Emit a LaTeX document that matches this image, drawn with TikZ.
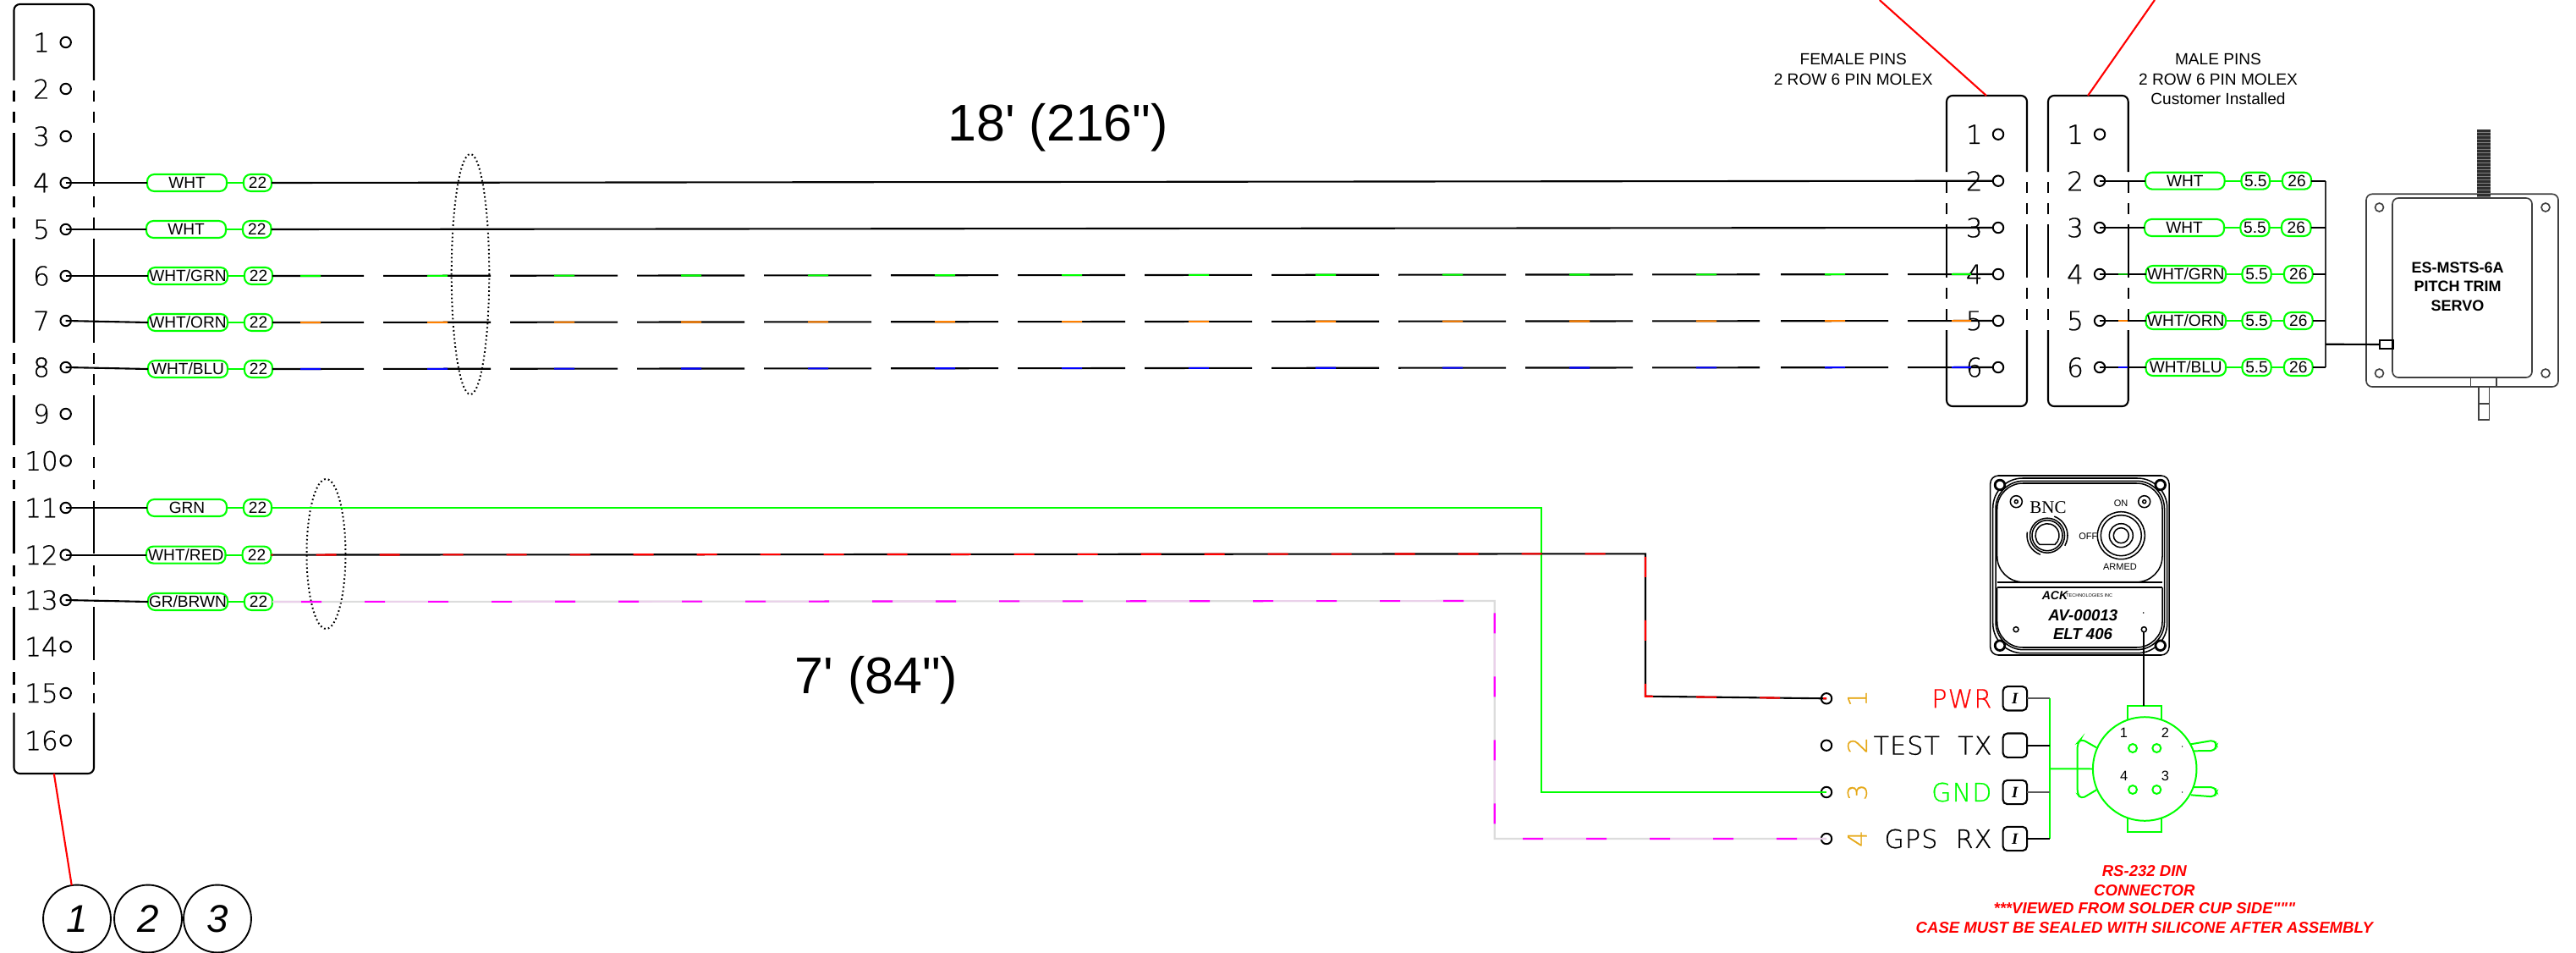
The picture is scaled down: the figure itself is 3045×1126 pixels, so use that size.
\documentclass[tikz,border=0pt]{standalone}
\usepackage{fontspec}
\setmainfont{Liberation Sans}
\newfontfamily\rawsans{Liberation Sans}
\newfontfamily\cad[FakeBold=0.7]{DejaVu Sans ExtraLight}
\newfontfamily\cadsp[LetterSpace=4,FakeBold=0.7]{DejaVu Sans ExtraLight}
\newfontfamily\serf{Liberation Serif}
\newcommand\fs[1]{\fontsize{#1}{#1}\selectfont}
\definecolor{gwire}{HTML}{00FF00}
\definecolor{pinorange}{HTML}{E6A817}
\definecolor{wg}{HTML}{00FF00}
\definecolor{wo}{HTML}{FF8000}
\definecolor{wb}{HTML}{0000FF}
\definecolor{wm}{HTML}{FF00FF}
\definecolor{pinkish}{HTML}{EAD0EA}
\definecolor{lgrey}{HTML}{DCDCDC}
\tikzset{
  hole/.style={circle,draw=black,line width=1.7pt,minimum size=10.6pt,inner sep=0pt,outer sep=0pt},
  pinnum/.style={inner sep=0pt,font=\cad\fs{26.4}},
  boxline/.style={draw=black,line width=1.8pt},
  wire/.style={draw=black,line width=1.8pt},
  gline/.style={draw=gwire,line width=1.8pt},
  pill/.style={draw=gwire,line width=1.8pt,fill=white,rounded corners=7pt,inner sep=0pt,outer sep=0pt,
     minimum height=17pt,font=\fs{16.3}},
  smalltxt/.style={inner sep=0pt,font=\fs{16.3},align=center},
  bigtxt/.style={inner sep=0pt,font=\rawsans\fs{52}},
  redtxt/.style={inner sep=0pt,font=\rawsans\bfseries\itshape\fs{15.85},text=red},
  leader/.style={draw=red,line width=1.8pt},
  callout/.style={circle,draw=black,line width=1.6pt,minimum size=68.2pt,inner sep=0pt,outer sep=0pt,font=\itshape\fs{39}},
  shield/.style={draw=black,line width=1.7pt,dash pattern=on 1.5pt off 2.6pt},
  pinbox/.style={draw=black,line width=1.8pt,rounded corners=4.5pt,minimum width=24.3pt,minimum height=24.2pt,inner sep=0pt,outer sep=0pt,font=\serf\bfseries\itshape\fs{16}},
  din/.style={draw=gwire,line width=1.7pt},
  panel/.style={draw=black,line width=1.3pt},
  servo/.style={draw=black!75,line width=1.4pt},
  sig/.style={inner sep=0pt,anchor=east,font=\cadsp\fs{25.6}},
}
\newcommand\pillnode[5]{\node[pill,minimum width={(#3-#2)*0.85358pt}] (#1) at ({(#2+#3)/2},#4) {#5};}
\newcommand\sidesegs[3]{\foreach \a/\b in {#3}{\draw[boxline] (#1,\a)--(#1,\b); \draw[boxline] (#2,\a)--(#2,\b);}}
\newcommand\brokenwire[4]{%
  \foreach \s/\e/\ca/\cb in {322/430/355/379,453/580/505/529,603/730/655/679,753/880/805/829,903/1030/955/979,1053/1180/1105/1129,1203/1330/1255/1279,1353/1480/1405/1429,1503/1630/1555/1579,1653/1780/1705/1729,1803/1930/1855/1879,1953/2080/2005/2029,2105/2232/2157/2181,2255/2356/2307/2330}{%
    \draw[wire] ({\s},{#1+(#2-#1)*(\s-322)/2040})--({\e},{#1+(#2-#1)*(\e-322)/2040});
    \draw[draw=#3,line width=1.8pt] ({\ca},{#1+(#2-#1)*(\ca-322)/2040})--({\cb},{#1+(#2-#1)*(\cb-322)/2040});
  }}
\begin{document}
\begin{tikzpicture}[x=0.03cm,y=-0.03cm]
\fill[white] (0,0) rectangle (3045,1126);
\useasboundingbox (0,0) rectangle (3045,1126);

% ---------- left connector
\draw[boxline,rounded corners=6pt] (16.5,95)--(16.5,5)--(111,5)--(111,95);
\draw[boxline,rounded corners=6pt] (16.5,842)--(16.5,914)--(111,914)--(111,842);
\sidesegs{16.5}{111}{107/120,132/145,157/220,232/245,257/270,282/405,417/430,442/455,467/526,540/553,567/578,592/654,668/681,693/703,717/780,794/809,819/831}
\foreach \i/\y in {1/50,2/105,3/161,4/216,5/271,6/326,7/379,8/434,9/489,10/544.5,11/600,12/655.6,13/709,14/764,15/819,16/875}{
  \node[hole] (h\i) at (77.7,\y) {};
  \node[pinnum] (n\i) at (49,\y) {\i};
}
% ---------- left pills
\pillnode{w4}{174}{268}{216}{WHT}
\pillnode{d4}{288}{321}{216}{22}
\pillnode{w5}{173}{267}{271}{WHT}
\pillnode{d5}{287}{320.5}{271}{22}
\pillnode{w6}{175}{269}{326}{WHT/GRN}
\pillnode{d6}{289}{322}{326}{22}
\pillnode{w7}{175}{269}{381}{WHT/ORN}
\pillnode{d7}{289}{322}{381}{22}
\pillnode{w8}{175}{269}{436}{WHT/BLU}
\pillnode{d8}{289}{322}{436}{22}
\pillnode{w11}{174}{268}{600}{GRN}
\pillnode{d11}{288}{321}{600}{22}
\pillnode{w12}{173}{266.5}{655.6}{WHT/RED}
\pillnode{d12}{286.6}{320.5}{655.6}{22}
\pillnode{w13}{175}{269}{711}{GR/BRWN}
\pillnode{d13}{289}{322}{711}{22}
\foreach \i in {4,5,6,7,8,11,12,13}{
  \draw[wire] (h\i.center)--(w\i.west);
  \draw[gline] (w\i.east)--(d\i.west);
}

% ---------- female / male connectors
\draw[boxline,rounded corners=6pt] (2301,203)--(2301,113)--(2396,113)--(2396,203);
\draw[boxline,rounded corners=6pt] (2301,390)--(2301,480)--(2396,480)--(2396,390);
\sidesegs{2301}{2396}{215/228,240/253,265/328,340/353,365/378}
\draw[boxline,rounded corners=6pt] (2421,203)--(2421,113)--(2515.7,113)--(2515.7,203);
\draw[boxline,rounded corners=6pt] (2421,390)--(2421,480)--(2515.7,480)--(2515.7,390);
\sidesegs{2421}{2515.7}{215/228,240/253,265/328,340/353,365/378}
\foreach \i/\y in {1/158.7,2/213.7,3/269,4/324,5/379,6/434}{
  \node[pinnum] (fn\i) at (2333.7,\y) {\i};
  \node[hole] (fh\i) at (2362,\y) {};
  \node[pinnum] (mn\i) at (2453,\y) {\i};
  \node[hole] (mh\i) at (2482,\y) {};
}
% wires across
\draw[wire] (d4.east)--(fh2.west);
\draw[wire] (d5.east)--(fh3.west);
\brokenwire{326}{324}{wg}{fh4}
\brokenwire{381}{379}{wo}{fh5}
\brokenwire{436}{434}{wb}{fh6}

% shields
\draw[shield] (556,324) ellipse [x radius=22.3,y radius=142];
\draw[shield] (385.5,654.5) ellipse [x radius=23,y radius=88.5];

% ---------- red leaders
\coordinate (lf) at (2221.7,0);
\coordinate (lm) at (2547,0);
\coordinate (ft) at (2348,113);
\coordinate (mt) at (2468,113);
\draw[leader] (lf)--(ft);
\draw[leader] (lm)--(mt);

% ---------- labels
\node[smalltxt] (femt) at (2190.7,70) {FEMALE PINS};
\node[smalltxt] (femb) at (2190.7,94) {2 ROW 6 PIN MOLEX};
\node[smalltxt] (malt) at (2622,70) {MALE PINS};
\node[smalltxt] (malb) at (2622,94) {2 ROW 6 PIN MOLEX};
\node[smalltxt] (malc) at (2622,117) {Customer Installed};
\node[bigtxt] (dim18) at (1250.7,150.5) {18' (216")};
\node[bigtxt] (dim7) at (1036,804) {7' (84")};

% ---------- male side pills
\pillnode{mw2}{2536}{2629.6}{213.7}{WHT}
\pillnode{ma2}{2649.5}{2683}{213.7}{5.5}
\pillnode{mb2}{2698}{2732}{213.7}{26}
\pillnode{mw3}{2535}{2629}{269}{WHT}
\pillnode{ma3}{2648.4}{2682.5}{269}{5.5}
\pillnode{mb3}{2697}{2731.5}{269}{26}
\pillnode{mw4}{2536.5}{2631}{324}{WHT/GRN}
\pillnode{ma4}{2650.5}{2684.6}{324}{5.5}
\pillnode{mb4}{2700}{2733.6}{324}{26}
\pillnode{mw5}{2536.5}{2631}{379}{WHT/ORN}
\pillnode{ma5}{2650.5}{2684.6}{379}{5.5}
\pillnode{mb5}{2700}{2733.6}{379}{26}
\pillnode{mw6}{2536.5}{2631}{434}{WHT/BLU}
\pillnode{ma6}{2650.5}{2684.6}{434}{5.5}
\pillnode{mb6}{2700}{2733.6}{434}{26}
\coordinate (bustop) at (2749,213.7);
\coordinate (busbot) at (2749,434);
\coordinate (busout) at (2749,406.7);
\draw[wire,line width=1.4pt,draw=black!80] (bustop)--(busbot);
\foreach \i in {2,3,4,5,6}{
  \draw[wire] (mh\i.center)--(mw\i.west);
  \draw[gline] (mw\i.east)--(ma\i.west);
  \draw[gline] (ma\i.east)--(mb\i.west);
  \draw[wire] (mb\i.east)--(2749,0 |- mb\i.east);
}
\draw[draw=wg!70!black,line width=1.8pt] (2504,324)--(2515,324);
\draw[draw=wo,line width=1.8pt] (2504,379)--(2515,379);
\draw[draw=wb,line width=1.8pt] (2504,434)--(2515,434);

% ---------- servo
\draw[servo,rounded corners=6pt] (2797,229.3) rectangle (3024,457);
\fill[black!82] (2928,152.7) rectangle (2944,234);
\foreach \yy in {156,160,...,232}{\draw[draw=black!50,line width=0.7pt] (2928,\yy)--(2944,\yy);}
\draw[servo,fill=white,rounded corners=6pt] (2828,234) rectangle (2993,446);
\foreach \cx/\cy in {2812.5/245,3009/245,2812.5/441,3009/441}{\draw[servo] (\cx,\cy) circle [radius=5];}
\draw[servo] (2920.6,446)--(2920.6,457) (2951,446)--(2951,457);
\draw[servo] (2930,457)--(2930,496)--(2942.5,496)--(2942.5,457) (2930,477)--(2942.5,477);
\node[boxline,inner sep=0pt,minimum width=13.2pt,minimum height=8.5pt,outer sep=0pt] (plug) at (2820.7,407) {};
\draw[wire] (busout)--(plug.west);
\node[inner sep=0pt,font=\bfseries\fs{15.36}] (sv1) at (2905,316.7) {ES-MSTS-6A};
\node[inner sep=0pt,font=\bfseries\fs{15.36}] (sv2) at (2905,338.7) {PITCH TRIM};
\node[inner sep=0pt,font=\bfseries\fs{15.36}] (sv3) at (2905,361) {SERVO};

% ---------- lower wires
\node[hole] (e1) at (2159,825.3) {};
\node[hole] (e2) at (2159,880.7) {};
\node[hole] (e3) at (2159,936) {};
\node[hole] (e4) at (2159,991) {};
\draw[gline,rounded corners=0pt] (d11.east)--(1821.7,600)--(1821.7,936)--(e3.center);
\draw[wire] (d12.east)--(1945,654.3)--(1945,822.7)--(e1.center);
\draw[draw=red,line width=1.8pt,dash pattern=on 20.49pt off 43.53pt,dash phase=18.78pt] (d12.east)--(1945,654.3)--(1945,822.7)--(e1.center);
\draw[draw=lgrey,line width=1.8pt] (d13.east)--(1766.7,710)--(1766.7,991)--(e4.center);
\draw[draw=pinkish,line width=1.8pt,dash pattern=on 43.53pt off 84.5pt,dash phase=14.51pt] (d13.east)--(1766.7,710)--(1766.7,991)--(e4.center);
\draw[draw=wm,line width=1.8pt,dash pattern=on 20.49pt off 43.53pt,dash phase=35pt] (d13.east)--(1766.7,710)--(1766.7,991)--(e4.center);

% ---------- signal pins
\foreach \i/\y in {1/825.3,2/880.7,3/936,4/991}{
  \node[pinnum,rotate=90,text=pinorange] (o\i) at (2195.4,\y) {\i};
}
\node[sig,text=red] (s1) at (2354.6,825.3) {PWR};
\node[sig] (s2) at (2354.6,880.7) {TEST\ \ TX};
\node[sig,text=wg] (s3) at (2354.6,936) {GND};
\node[sig] (s4) at (2354.6,991) {GPS\ \ RX};
\node[pinbox] (b1) at (2381.8,825.3) {I};
\node[pinbox] (b2) at (2381.8,880.7) {};
\node[pinbox] (b3) at (2381.8,936) {I};
\node[pinbox] (b4) at (2381.8,991) {I};
\coordinate (vt) at (2423,825.3);
\coordinate (vb) at (2423,991);
\coordinate (vm) at (2423,908.3);
\draw[din] (vt)--(vb);
\draw[draw=black!65,line width=1.8pt] (b1.east)--(vt);
\draw[wire] (b2.east)--(2423,880.7);
\draw[draw=black!65,line width=1.8pt] (b3.east)--(2423,936);
\draw[wire] (b4.east)--(vb);

% ---------- DIN connector
\node[din,circle,minimum size=104.6pt,inner sep=0pt,outer sep=0pt] (dinc) at (2535.2,908.5) {};
\draw[din] (vm)--(dinc.west);
\draw[din] (2514.6,850)--(2514.6,834)--(2555.4,834)--(2555.4,850);
\draw[din] (2514.6,966.7)--(2514.6,982.7)--(2555.4,982.7)--(2555.4,966.7);
\draw[din,rounded corners=4pt] (2478.2,883.3)--(2460,873)--(2455.7,878)--(2455.7,938)--(2460,944)--(2478.2,933.3);
\draw[din,rounded corners=4pt] (2589.6,879.3)--(2618,874.5)--(2620,880.7)--(2618,887)--(2593,887.3);
\draw[din,rounded corners=4pt] (2592,930)--(2618,930)--(2620,935.7)--(2618,941.5)--(2589.6,939.3);
\foreach \cx/\cy in {2521/884,2549.3/884,2521/933,2549.3/933}{\draw[din] (\cx,\cy) circle [radius=5];}
\fill[black] (2579.6,882) circle [radius=0.8] (2579.6,936) circle [radius=0.8];
\foreach \lab/\cx/\cy in {1/2510.4/866,2/2559.3/866,4/2510.7/917.3,3/2559.3/917.3}{
  \node[inner sep=0pt,font=\fs{14}] (dp\lab) at (\cx,\cy) {\lab};
}
\node[redtxt] (r1) at (2534.8,1029) {RS-232 DIN};
\node[redtxt] (r2) at (2534.8,1051.7) {CONNECTOR};
\node[redtxt] (r3) at (2534.8,1073.3) {***VIEWED FROM SOLDER CUP SIDE"""};
\node[redtxt] (r4) at (2534.8,1095.7) {CASE MUST BE SEALED WITH SILICONE AFTER ASSEMBLY};

% ---------- ELT panel
\draw[panel,rounded corners=8pt] (2352.7,562) rectangle (2564,774);
\draw[panel,rounded corners=30pt] (2355.7,565) rectangle (2561.7,771.7);
\draw[panel,rounded corners=28pt] (2359,568.3) rectangle (2558.5,767.7);
\draw[panel,rounded corners=26pt] (2360.7,687.7)--(2360.7,571)--(2556,571)--(2556,687.7)--cycle;
\draw[panel,rounded corners=26pt] (2360.7,694.3)--(2360.7,765)--(2556,765)--(2556,694.3);
\draw[draw=black,line width=1.9pt] (2360.7,687.7)--(2556,687.7);
\draw[draw=black,line width=1.9pt] (2360.7,694.3)--(2556,694.3);
\foreach \cx/\cy in {2364/573,2553.7/573,2364/762.7,2553.7/762.7}{\draw[draw=black,line width=2.4pt,fill=white] (\cx,\cy) circle [radius=5.8];}
\foreach \cx in {2383.3,2534.7}{\draw[panel,fill=white] (\cx,592.7) circle [radius=7]; \draw[panel] (\cx,592.7) circle [radius=2];}
\node[inner sep=0pt,font=\serf\fs{17.9}] (bnc) at (2421,600) {BNC};
\draw[panel] (2420,632.7) circle [radius=20.5];
\draw[panel] (2420,632.7) circle [radius=18];
\draw[panel] (2420,632.7) ++(-70:24) arc [start angle=-70,end angle=30,radius=24];
\draw[panel] (2420,632.7) ++(110:24) arc [start angle=110,end angle=190,radius=24];
\draw[panel] (2420,632.7) ++(130:14) arc [start angle=130,end angle=410,radius=14] --cycle;
\foreach \rr in {28,24,14,9}{\draw[panel] (2507.3,632.7) circle [radius=\rr];}
\node[inner sep=0pt,font=\fs{9.4}] (tn) at (2507,595) {ON};
\node[inner sep=0pt,font=\fs{9.4}] (toff) at (2468.3,633.7) {OFF};
\node[inner sep=0pt,font=\fs{9.4}] (tarm) at (2506,669.7) {ARMED};
\node[inner sep=0pt,font=\bfseries\itshape\fs{12}] (ack) at (2429,703.5) {ACK};
\node[inner sep=0pt,font=\fs{4.7},anchor=west] (tech) at (2442,703.7) {TECHNOLOGIES INC};
\node[inner sep=0pt,font=\bfseries\itshape\fs{15.9}] (av) at (2462.3,726.7) {AV-00013};
\node[inner sep=0pt,font=\bfseries\itshape\fs{15.9}] (elt) at (2462,749) {ELT 406};
\draw[panel] (2383,743.7) circle [radius=3];
\node[draw=black,line width=1.3pt,circle,minimum size=5.2pt,inner sep=0pt,outer sep=0pt] (eltpin) at (2534.3,743.7) {};
\fill[black] (2533.7,724) circle [radius=0.8];
\draw[wire] (eltpin.south)--(2534.3,834);

% ---------- callouts
\node[callout] (c1) at (91,1085.5) {1};
\node[callout] (c2) at (175,1085.5) {2};
\node[callout] (c3) at (257,1085.5) {3};
\coordinate (lb) at (63.8,914);
\draw[leader] (lb)--(c1);
\end{tikzpicture}
\end{document}
